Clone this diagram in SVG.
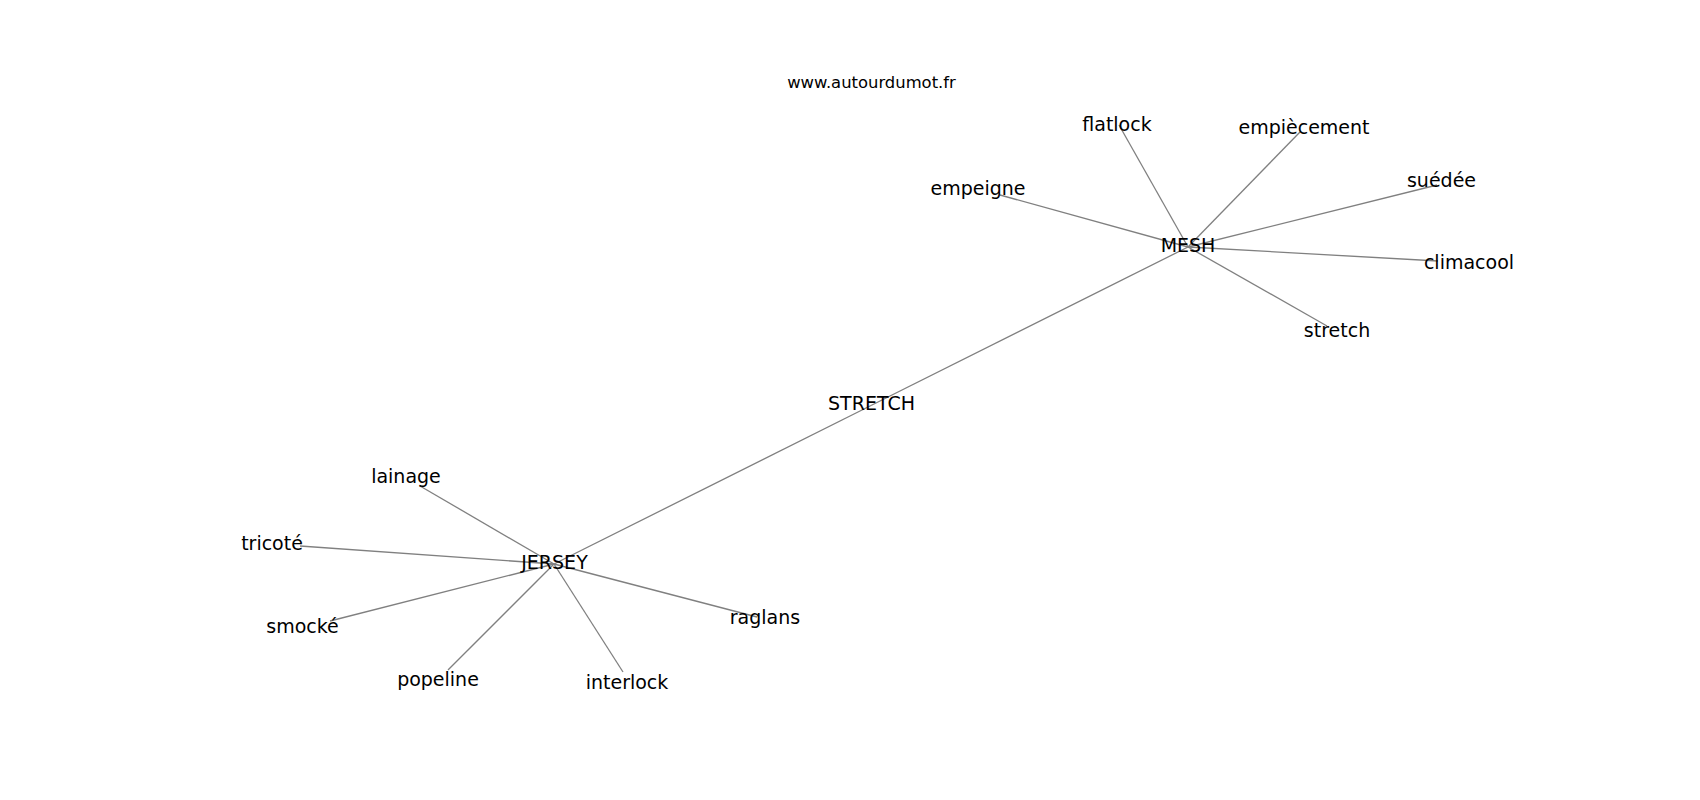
<svg xmlns="http://www.w3.org/2000/svg" width="1700" height="800" viewBox="0 0 1700 800">
<style>
.e{stroke:#808080;stroke-width:1.3;fill:none}
.l{font-family:"DejaVu Sans",sans-serif;font-size:19px;fill:#000;text-anchor:middle}
.t{font-family:"DejaVu Sans",sans-serif;font-size:16.4px;fill:#000;text-anchor:middle}
</style>
<rect width="1700" height="800" fill="#fff"/>
<text class="t" x="871.5" y="88.3">www.autourdumot.fr</text>
<g id="edges">
<line class="e" x1="1188" y1="247" x2="1119" y2="125"/>
<line class="e" x1="1188" y1="247" x2="1300" y2="132"/>
<line class="e" x1="1188" y1="247" x2="1000" y2="195"/>
<line class="e" x1="1188" y1="247" x2="1437" y2="185"/>
<line class="e" x1="1188" y1="247" x2="1438" y2="261"/>
<line class="e" x1="1188" y1="247" x2="1327" y2="326"/>
<line class="e" x1="1188" y1="247" x2="871" y2="405.5"/>
<line class="e" x1="554" y1="564" x2="871" y2="405.5"/>
<line class="e" x1="554" y1="564" x2="420" y2="486"/>
<line class="e" x1="554" y1="564" x2="300" y2="546"/>
<line class="e" x1="554" y1="564" x2="330" y2="621"/>
<line class="e" x1="554" y1="564" x2="448" y2="670"/>
<line class="e" x1="554" y1="564" x2="623" y2="672"/>
<line class="e" x1="554" y1="564" x2="757" y2="617"/>
</g>
<g id="n-mesh"><text class="l" x="1188" y="252">MESH</text></g>
<g id="n-flatlock"><text class="l" x="1117" y="131">flatlock</text></g>
<g id="n-empiecement"><text class="l" x="1304" y="134">empiècement</text></g>
<g id="n-empeigne"><text class="l" x="978" y="195">empeigne</text></g>
<g id="n-suedee"><text class="l" x="1441.5" y="187">suédée</text></g>
<g id="n-climacool"><text class="l" x="1469" y="269">climacool</text></g>
<g id="n-stretch-leaf"><text class="l" x="1337" y="336.5">stretch</text></g>
<g id="n-stretch"><text class="l" x="871.5" y="410">STRETCH</text></g>
<g id="n-jersey"><text class="l" x="554.5" y="568.5">JERSEY</text></g>
<g id="n-lainage"><text class="l" x="406" y="483.3">lainage</text></g>
<g id="n-tricote"><text class="l" x="272" y="550">tricoté</text></g>
<g id="n-smocke"><text class="l" x="302.5" y="632.7">smocké</text></g>
<g id="n-popeline"><text class="l" x="438" y="686">popeline</text></g>
<g id="n-interlock"><text class="l" x="627" y="689">interlock</text></g>
<g id="n-raglans"><text class="l" x="765" y="624">raglans</text></g>
</svg>
